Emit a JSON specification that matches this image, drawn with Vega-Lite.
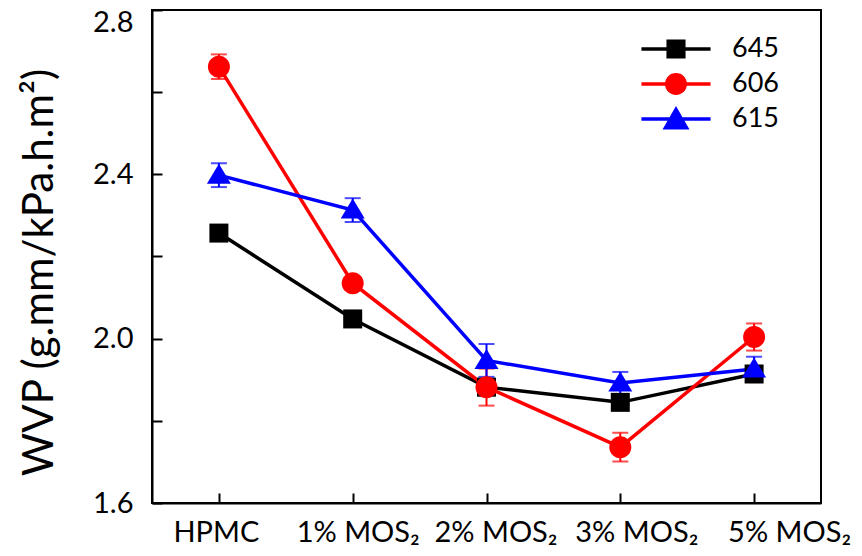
{
  "$schema": "https://vega.github.io/schema/vega-lite/v6.json",
  "width": 669,
  "height": 493,
  "autosize": {"type": "none"},
  "padding": {"left": 152, "top": 10, "right": 41, "bottom": 53},
  "background": "white",
  "config": {
    "view": {"stroke": "#000000", "strokeWidth": 2},
    "font": "Lato",
    "axis": {
      "domainColor": "#000000",
      "domainWidth": 2,
      "tickColor": "#000000",
      "tickWidth": 2,
      "tickSize": -10,
      "labelColor": "#000000",
      "titleColor": "#000000",
      "grid": false,
      "labelFont": "Lato",
      "titleFont": "Lato"
    },
    "legend": {
      "title": null,
      "orient": "none",
      "legendX": 506,
      "legendY": 21,
      "symbolSize": 1296,
      "symbolStrokeWidth": 0,
      "symbolOpacity": 1,
      "labelFontSize": 27,
      "labelOffset": 38,
      "rowPadding": 4,
      "padding": 0,
      "labelFont": "Lato",
      "labelColor": "#000000"
    }
  },
  "data": {
    "values": [
      {"series": "645", "group": "HPMC", "wvp": 2.257, "err": 0.015},
      {"series": "645", "group": "1% MOS₂", "wvp": 2.048, "err": 0.012},
      {"series": "645", "group": "2% MOS₂", "wvp": 1.882, "err": 0.02},
      {"series": "645", "group": "3% MOS₂", "wvp": 1.845, "err": 0.016},
      {"series": "645", "group": "5% MOS₂", "wvp": 1.914, "err": 0.015},
      {"series": "606", "group": "HPMC", "wvp": 2.662, "err": 0.03},
      {"series": "606", "group": "1% MOS₂", "wvp": 2.135, "err": 0.01},
      {"series": "606", "group": "2% MOS₂", "wvp": 1.882, "err": 0.045},
      {"series": "606", "group": "3% MOS₂", "wvp": 1.736, "err": 0.035},
      {"series": "606", "group": "5% MOS₂", "wvp": 2.004, "err": 0.033},
      {"series": "615", "group": "HPMC", "wvp": 2.398, "err": 0.029},
      {"series": "615", "group": "1% MOS₂", "wvp": 2.313, "err": 0.029},
      {"series": "615", "group": "2% MOS₂", "wvp": 1.947, "err": 0.04},
      {"series": "615", "group": "3% MOS₂", "wvp": 1.892, "err": 0.027},
      {"series": "615", "group": "5% MOS₂", "wvp": 1.926, "err": 0.03}
    ]
  },
  "encoding": {
    "x": {
      "field": "group",
      "type": "ordinal",
      "scale": {"type": "point", "padding": 0.5, "domain": ["HPMC", "1% MOS₂", "2% MOS₂", "3% MOS₂", "5% MOS₂"]},
      "axis": {
        "title": null,
        "labelAngle": 0,
        "labelFontSize": 29,
        "labelPadding": 25,
        "labelOffset": {
          "condition": [
            {"test": "datum.value == 'HPMC'", "value": -3},
            {"test": "datum.value == '1% MOS₂'", "value": 5},
            {"test": "datum.value == '2% MOS₂'", "value": 9},
            {"test": "datum.value == '3% MOS₂'", "value": 16},
            {"test": "datum.value == '5% MOS₂'", "value": 35}
          ],
          "value": 0
        }
      }
    },
    "y": {
      "field": "wvp",
      "type": "quantitative",
      "scale": {"domain": [1.6, 2.8], "nice": false, "zero": false},
      "axis": {
        "values": [1.6, 1.8, 2.0, 2.2, 2.4, 2.6, 2.8],
        "labelExpr": "round(datum.value*10)%4==0 ? format(datum.value,'.1f') : ''",
        "labelOffset": {"condition": {"test": "datum.value > 2.75", "value": 12}, "value": 0},
        "title": "WVP (g.mm/kPa.h.m²)",
        "titleFontSize": 42,
        "titleFontWeight": "normal",
        "titleY": 262,
        "labelFontSize": 29,
        "labelPadding": 29,
        "titlePadding": 31
      }
    },
    "color": {
      "field": "series",
      "type": "nominal",
      "scale": {"domain": ["645", "606", "615"], "range": ["#000000", "#ff0000", "#0000ff"]},
      "legend": null
    }
  },
  "layer": [
    {
      "mark": {"type": "line", "strokeWidth": 3.5},
      "encoding": {"detail": {"field": "series"}}
    },
    {
      "mark": {"type": "errorbar", "ticks": {"size": 16, "thickness": 2}, "rule": {"strokeWidth": 2}},
      "encoding": {"yError": {"field": "err"}}
    },
    {
      "mark": {"type": "point", "filled": true, "opacity": 1, "size": 400, "strokeWidth": 0},
      "encoding": {
        "shape": {
          "field": "series",
          "type": "nominal",
          "scale": {
            "domain": ["645", "606", "615"],
            "range": [
              "M-0.95,-0.95H0.95V0.95H-0.95Z",
              "M-1.1,0A1.1,1.1 0 1,1 1.1,0A1.1,1.1 0 1,1 -1.1,0Z",
              "M0,-1.15L1.2,0.85H-1.2Z"
            ]
          },
          "legend": null
        }
      }
    },
    {
      "mark": {"type": "point", "filled": true, "opacity": 0},
      "encoding": {
        "color": {
          "field": "series",
          "type": "nominal",
          "scale": {"domain": ["645", "606", "615"], "range": ["#000000", "#ff0000", "#0000ff"]},
          "legend": {"title": null}
        },
        "shape": {
          "field": "series",
          "type": "nominal",
          "scale": {
            "domain": ["645", "606", "615"],
            "range": [
              "M-1.92,-0.1H1.92V0.1H-1.92Z M-0.53,-0.53H0.53V0.53H-0.53Z",
              "M-1.92,-0.1H1.92V0.1H-1.92Z M-0.61,0A0.61,0.61 0 1,1 0.61,0A0.61,0.61 0 1,1 -0.61,0Z",
              "M-1.92,-0.1H1.92V0.1H-1.92Z M0,-0.72L0.75,0.58H-0.75Z"
            ]
          },
          "legend": {"title": null}
        }
      }
    }
  ],
  "resolve": {"scale": {"shape": "independent", "color": "independent"}}
}
